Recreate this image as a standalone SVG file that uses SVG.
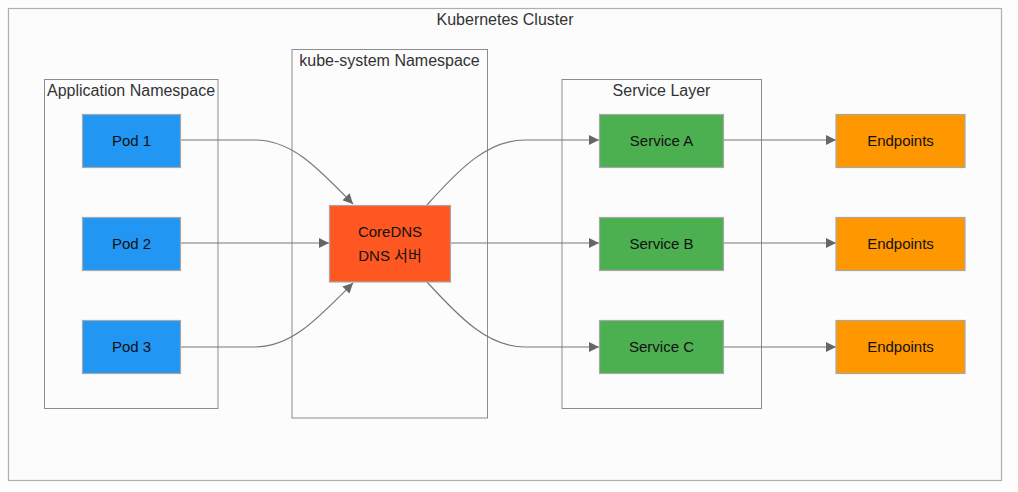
<svg xmlns="http://www.w3.org/2000/svg" width="1018" height="492" viewBox="0 0 1018 492">
<defs>
<style>
.cl{fill:#fcfcfc;stroke:#8c8c8c;stroke-width:1}
.clt{font-family:"Liberation Sans","Noto Sans CJK KR",sans-serif;font-size:16px;fill:#333;text-anchor:middle}
.nd{stroke:#a8a8a8;stroke-width:1.2}
.nt{font-family:"Liberation Sans","Noto Sans CJK KR",sans-serif;font-size:15px;fill:#111;text-anchor:middle}
.e{fill:none;stroke:#777;stroke-width:1.2}
</style>
<marker id="ah" viewBox="0 0 10 10" refX="10" refY="5" markerWidth="10" markerHeight="10" markerUnits="userSpaceOnUse" orient="auto">
<path d="M0,0 L10,5 L0,10 z" fill="#666"/>
</marker>
</defs>
<rect x="0" y="0" width="1018" height="492" fill="#fdfdfd"/>
<g id="cluster-k8s">
<rect x="8.5" y="8.5" width="993" height="472" fill="#fcfcfc" stroke="#b0b0b0" stroke-width="1.2"/>
<text class="clt" x="505" y="25">Kubernetes Cluster</text>
</g>
<g id="cluster-app">
<rect class="cl" x="44.5" y="79.5" width="173.5" height="329"/>
<text class="clt" x="131" y="96">Application Namespace</text>
</g>
<g id="cluster-kube">
<rect class="cl" x="292" y="49.5" width="195.5" height="368.5"/>
<text class="clt" x="389.5" y="66">kube-system Namespace</text>
</g>
<g id="cluster-svc">
<rect class="cl" x="562" y="79.5" width="199.5" height="329"/>
<text class="clt" x="661.5" y="96">Service Layer</text>
</g>
<g id="connectors">
<path class="e" d="M180,140 L255,140 C292,140 318,168 353,204" marker-end="url(#ah)"/>
<path class="e" d="M180,243 L329,243" marker-end="url(#ah)"/>
<path class="e" d="M180,347 L255,347 C292,347 318,318 353,283" marker-end="url(#ah)"/>
<path class="e" d="M427,205 C460,168 488,140 525,140 L599,140" marker-end="url(#ah)"/>
<path class="e" d="M450,243 L599,243" marker-end="url(#ah)"/>
<path class="e" d="M427,282 C460,318 488,347 525,347 L599,347" marker-end="url(#ah)"/>
<path class="e" d="M724,140 L836,140" marker-end="url(#ah)"/>
<path class="e" d="M724,243 L836,243" marker-end="url(#ah)"/>
<path class="e" d="M724,347 L836,347" marker-end="url(#ah)"/>
</g>
<g id="pod1"><rect class="nd" x="82.5" y="114.5" width="98" height="53" fill="#2196F3"/><text class="nt" x="131.5" y="146">Pod 1</text></g>
<g id="pod2"><rect class="nd" x="82.5" y="217.5" width="98" height="53" fill="#2196F3"/><text class="nt" x="131.5" y="249">Pod 2</text></g>
<g id="pod3"><rect class="nd" x="82.5" y="320.5" width="98" height="53" fill="#2196F3"/><text class="nt" x="131.5" y="352">Pod 3</text></g>
<g id="coredns"><rect class="nd" x="329.5" y="205.5" width="121" height="76.5" fill="#FF5722"/><text class="nt" x="390" y="237">CoreDNS</text><text class="nt" x="390" y="261">DNS 서버</text></g>
<g id="svcA"><rect class="nd" x="599.5" y="114.5" width="124" height="53" fill="#4CAF50"/><text class="nt" x="661.5" y="146">Service A</text></g>
<g id="svcB"><rect class="nd" x="599.5" y="217.5" width="124" height="53" fill="#4CAF50"/><text class="nt" x="661.5" y="249">Service B</text></g>
<g id="svcC"><rect class="nd" x="599.5" y="320.5" width="124" height="53" fill="#4CAF50"/><text class="nt" x="661.5" y="352">Service C</text></g>
<g id="epA"><rect class="nd" x="836" y="114.5" width="129" height="53" fill="#FF9800"/><text class="nt" x="900.5" y="146">Endpoints</text></g>
<g id="epB"><rect class="nd" x="836" y="217.5" width="129" height="53" fill="#FF9800"/><text class="nt" x="900.5" y="249">Endpoints</text></g>
<g id="epC"><rect class="nd" x="836" y="320.5" width="129" height="53" fill="#FF9800"/><text class="nt" x="900.5" y="352">Endpoints</text></g>
</svg>
